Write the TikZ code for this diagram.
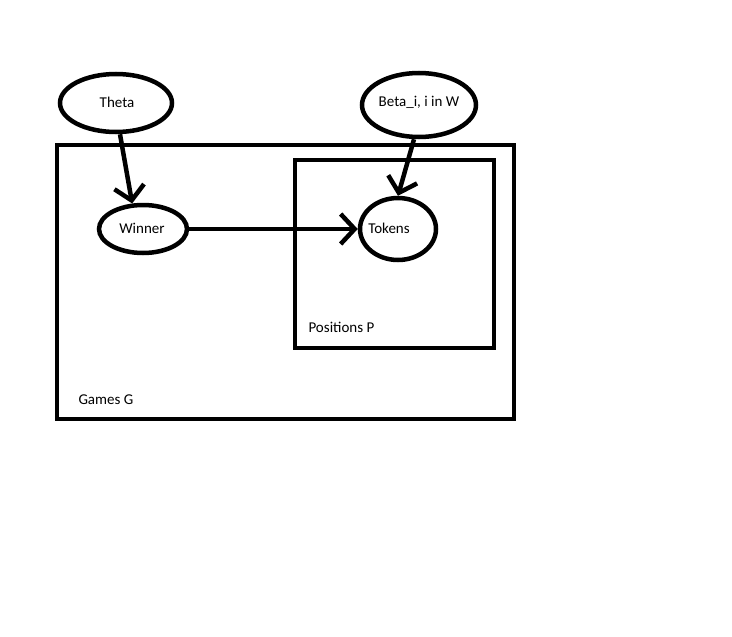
\documentclass[tikz,border=0pt]{standalone}
\usepackage{fontspec}
\setmainfont{Carlito}
\usetikzlibrary{arrows.meta,shapes.geometric}
\begin{document}
\begin{tikzpicture}[x=1pt,y=-1pt,
  thick line/.style={line width=4.5pt},
  var/.style={draw,ellipse,line width=4.5pt,inner sep=0pt},
  lbl/.style={font=\fontsize{15}{17}\selectfont},
  arr/.style={line width=4.5pt,-{Straight Barb[length=14pt,width=30pt,line width=4.5pt]}}]
\useasboundingbox[fill=white] (0,0) rectangle (732,637);
\draw[thick line] (57,145) rectangle (514,419);
\draw[thick line] (295,160) rectangle (494,348);
\node[var,minimum width=112pt,minimum height=58pt] (theta) at (116,103) {};
\node[lbl] at (117,102) {Theta};
\node[var,minimum width=88pt,minimum height=48pt] (winner) at (143,229) {};
\node[lbl] at (142,228) {Winner};
\node[var,minimum width=114pt,minimum height=64pt] (beta) at (419,105) {};
\node[lbl] at (419,102) {Beta\_i, i in W};
\node[var,minimum width=76pt,minimum height=62pt] (tokens) at (398,229) {};
\node[lbl] at (389,228) {Tokens};
\node[lbl,anchor=west] (pos) at (305,327) {Positions P};
\node[lbl,anchor=west] (games) at (75,400) {Games G};
\draw[arr] (theta.south) ++(4,0) -- (winner.113);
\draw[arr] (winner.east) -- (tokens.west);
\draw[arr] (beta.south) ++(-5,0) -- (tokens.north);
\end{tikzpicture}
\end{document}
